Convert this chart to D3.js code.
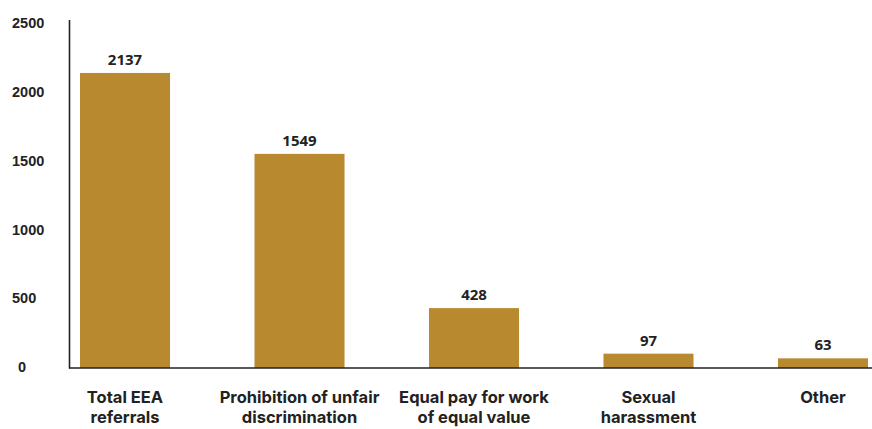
<!DOCTYPE html>
<html>
<head>
<meta charset="utf-8">
<script src="https://cdn.jsdelivr.net/npm/d3@7"></script>
<style>
  html, body { margin: 0; padding: 0; background: #fff; }
  svg { display: block; font-family: "Open Sans", Inter, sans-serif; }
  .cat { font-family: Inter, "Open Sans", sans-serif; }
</style>
</head>
<body>
<svg id="chart" width="872" height="429"></svg>
<script>
// Referral counts by category
const categories = [
  ["Total EEA", "referrals"],
  ["Prohibition of unfair", "discrimination"],
  ["Equal pay for work", "of equal value"],
  ["Sexual", "harassment"],
  ["Other"]
];
const referrals = [2137, 1549, 428, 97, 63];
const yTicks = [0, 500, 1000, 1500, 2000, 2500];

const barColor = "#b98930";
const inkColor = "#222222";

const svg = d3.select("#chart");
const keys = categories.map(c => c.join(" "));

const x = d3.scaleBand()
  .domain(keys)
  .range([80, 868])
  .paddingInner(0.484)
  .paddingOuter(0);

const y = d3.scaleLinear()
  .domain([0, 2500])
  .range([367, 23]);

// Tick labels (no tick marks, left-aligned column)
const yAxis = d3.axisLeft(y).tickValues(yTicks).tickSize(0).tickFormat(d3.format("d"));
const yg = svg.append("g").attr("transform", "translate(12,0)").call(yAxis);
yg.select(".domain").remove();
yg.selectAll("text")
  .attr("x", d => d === 0 ? 6 : 0)
  .attr("text-anchor", "start")
  .attr("fill", inkColor)
  .style("font-size", "14.5px")
  .style("font-weight", 700);

// Bars
svg.append("g").selectAll("rect")
  .data(referrals)
  .join("rect")
  .attr("x", (d, i) => x(keys[i]))
  .attr("width", x.bandwidth())
  .attr("y", d => y(d))
  .attr("height", d => y(0) + 1 - y(d))
  .attr("fill", barColor);

// Value labels above bars
svg.append("g").selectAll("text")
  .data(referrals)
  .join("text")
  .attr("x", (d, i) => x(keys[i]) + x.bandwidth() / 2)
  .attr("y", d => y(d) - 8)
  .attr("text-anchor", "middle")
  .attr("fill", inkColor)
  .style("font-size", "15px")
  .style("font-weight", 700)
  .text(d3.format("d"));

// Axis lines
svg.append("line")
  .attr("x1", 69.5).attr("x2", 69.5)
  .attr("y1", 20).attr("y2", 368.5)
  .attr("stroke", inkColor).attr("stroke-width", 1.6);
svg.append("line")
  .attr("x1", 69).attr("x2", 872)
  .attr("y1", 368).attr("y2", 368)
  .attr("stroke", inkColor).attr("stroke-width", 1.6);

// Category labels below the axis, one text per line
const xg = svg.append("g");
categories.forEach((lines, i) => {
  lines.forEach((line, j) => {
    xg.append("text")
      .attr("class", "cat")
      .attr("x", x(keys[i]) + x.bandwidth() / 2)
      .attr("y", 403 + j * 20)
      .attr("text-anchor", "middle")
      .attr("fill", inkColor)
      .style("font-size", "16.5px")
      .style("font-weight", 700)
      .text(line);
  });
});
</script>
</body>
</html>
